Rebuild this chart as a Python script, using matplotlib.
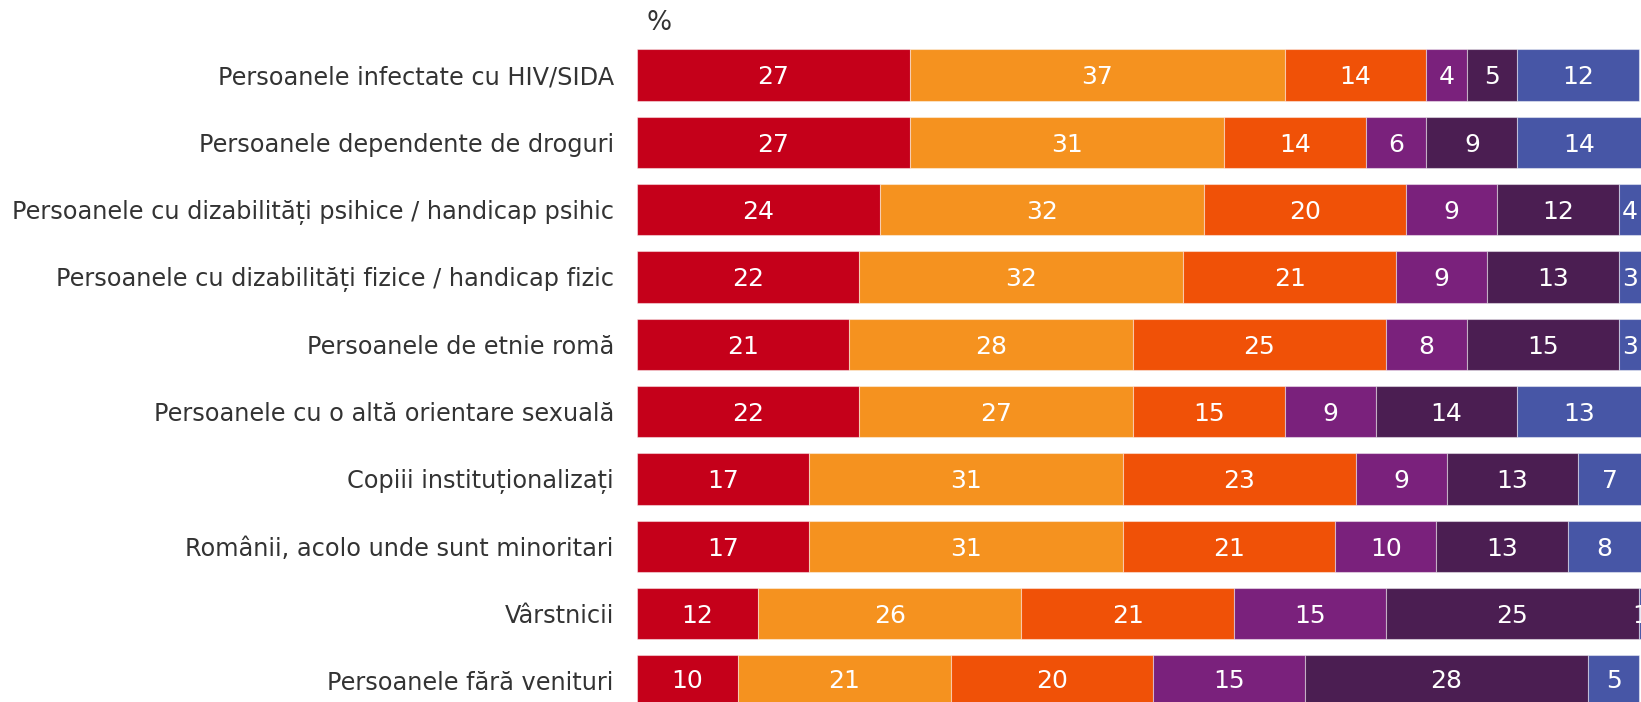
"""
Stacked horizontal bar chart: attitudes towards groups (percent), cropped view.
"""
import numpy as np
import matplotlib.pyplot as plt

# Categories (top to bottom)
categories = [
    'Persoanele infectate cu HIV/SIDA',
    'Persoanele dependente de droguri',
    'Persoanele cu dizabilități psihice / handicap psihic',
    'Persoanele cu dizabilități fizice / handicap fizic',
    'Persoanele de etnie romă',
    'Persoanele cu o altă orientare sexuală',
    'Copiii instituționalizați',
    'Românii, acolo unde sunt minoritari',
    'Vârstnicii',
    'Persoanele fără venituri',
]

# Series values (percent), one list per segment
seg1 = [27, 27, 24, 22, 21, 22, 17, 17, 12, 10]
seg2 = [37, 31, 32, 32, 28, 27, 31, 31, 26, 21]
seg3 = [14, 14, 20, 21, 25, 15, 23, 21, 21, 20]
seg4 = [4, 6, 9, 9, 8, 9, 9, 10, 15, 15]
seg5 = [5, 9, 12, 13, 15, 14, 13, 13, 25, 28]
seg6 = [12, 14, 4, 3, 3, 13, 7, 8, 1, 5]

series = [seg1, seg2, seg3, seg4, seg5, seg6]
colors = ['#C5001A', '#F5921F', '#F05107', '#7A217C', '#4B1E52', '#4756A6']

W, H = 1641, 702
fig = plt.figure(figsize=(W / 100, H / 100), dpi=100)

# axes placed so the right part / last row run off the canvas, as in the reference
x_left = 636.7
xmax = 99.2
row_top, pitch = 41.3, 67.33
ymax = (H - 75) / pitch
ax = fig.add_axes([x_left / W, 0, (W - x_left) / W, 1 - row_top / H])

y = np.arange(len(categories))
left = np.zeros(len(categories))
for vals, col in zip(series, colors):
    vals = np.array(vals, dtype=float)
    bars = ax.barh(y, vals, left=left, height=0.765, color=col,
                   edgecolor=(1, 1, 1, 0.45), linewidth=0.8)
    anns = ax.bar_label(bars, labels=[str(int(v)) for v in vals], label_type='center',
                        color='white', fontsize=18, clip_on=False)
    for a in anns:
        a.set_va('center_baseline')
    left += vals

ax.set_xlim(0, xmax)
ax.set_ylim(ymax, -0.5)
ax.set_yticks(y)
ax.set_yticklabels(categories, fontsize=17.3, color='#333333')
ax.tick_params(axis='y', length=0, pad=16.5)
ax.set_xticks([])
for s in ax.spines.values():
    s.set_visible(False)

fig.text(647 / W, 1 - 23 / H, '%', fontsize=19, color='#333333', va='center', ha='left')

plt.savefig('out.png', dpi=100, facecolor='white')
